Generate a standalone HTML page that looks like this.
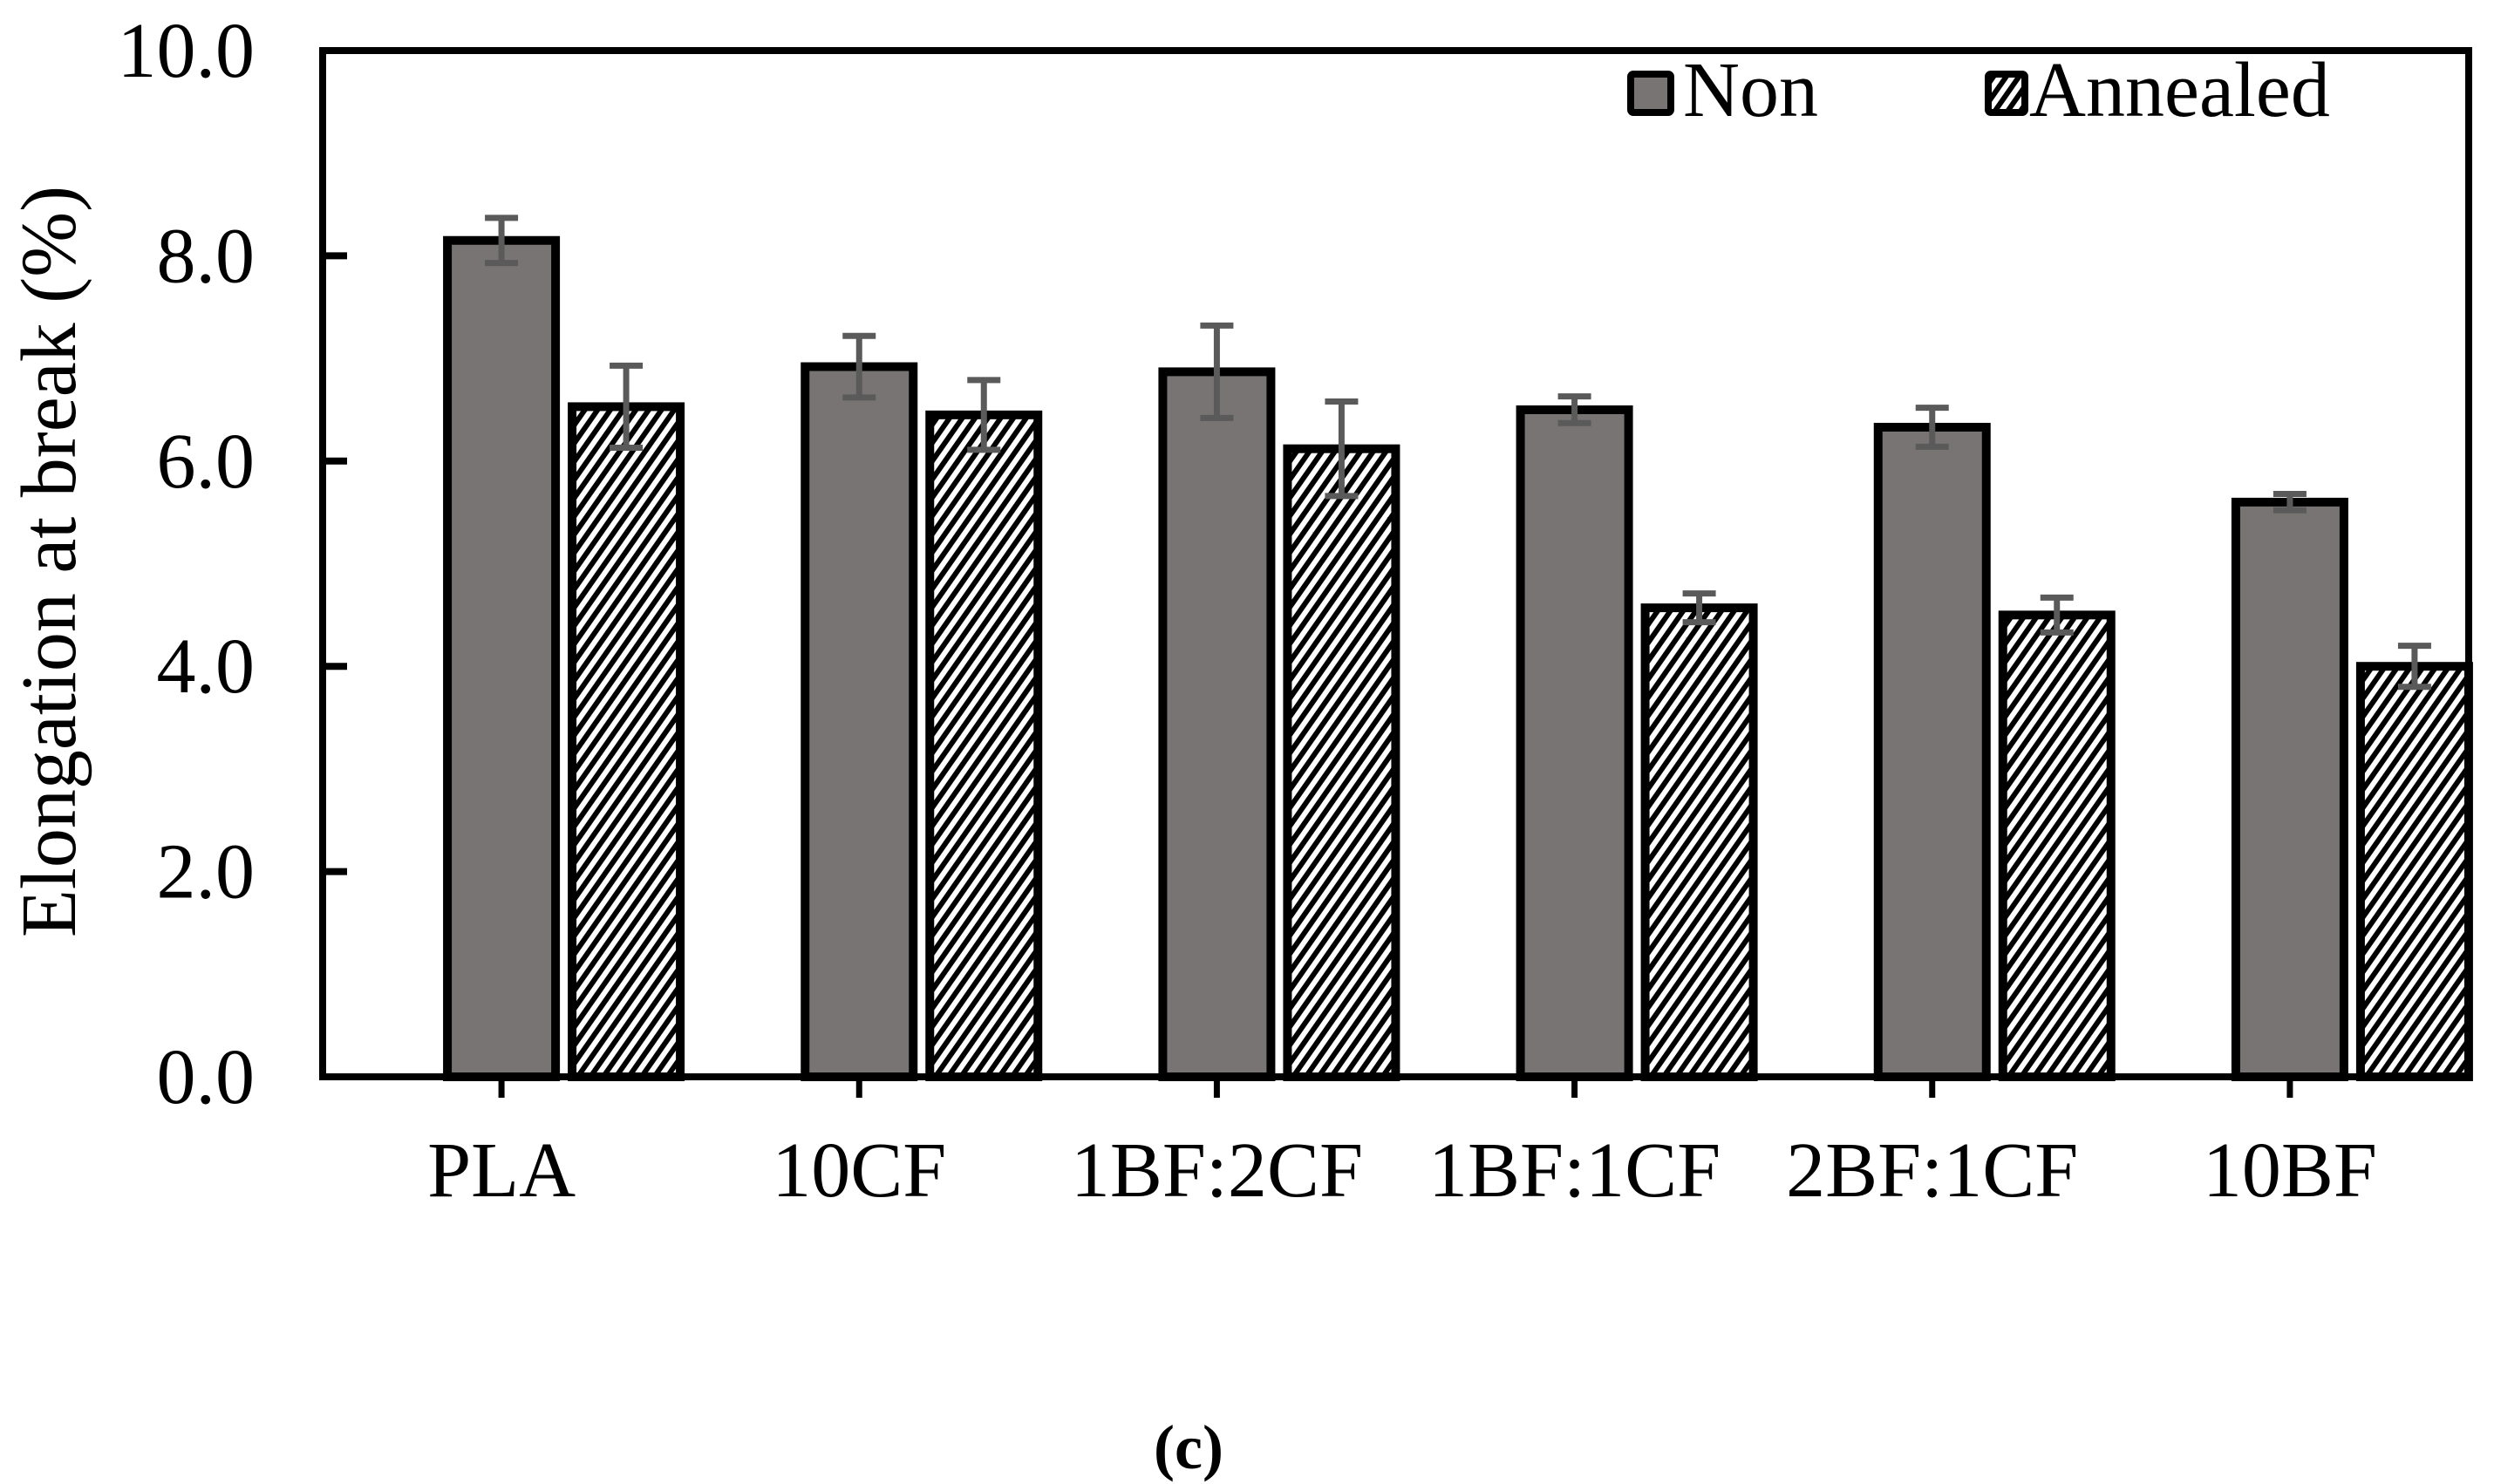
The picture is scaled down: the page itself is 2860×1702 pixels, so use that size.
<!DOCTYPE html>
<html><head><meta charset="utf-8"><style>
html,body{margin:0;padding:0;background:#fff}
svg{display:block}
text{font-family:"Liberation Serif",serif;fill:#000}
</style></head><body>
<svg id="chart" width="2860" height="1702" viewBox="0 0 2860 1702" xmlns="http://www.w3.org/2000/svg">
<defs>
<pattern id="hatch" patternUnits="userSpaceOnUse" width="12" height="12" patternTransform="rotate(35)">
<rect width="12" height="12" fill="#fff"/><rect width="6" height="12" fill="#000"/>
</pattern>
</defs>
<g id="plot"></g>
</svg>
<script>
const categories = ["PLA","10CF","1BF:2CF","1BF:1CF","2BF:1CF","10BF"];
const nonValues = [8.15, 6.92, 6.87, 6.50, 6.33, 5.60];
const nonErr = [0.22, 0.30, 0.45, 0.13, 0.19, 0.08];
const annValues = [6.53, 6.45, 6.12, 4.57, 4.50, 4.00];
const annErr = [0.40, 0.34, 0.46, 0.14, 0.17, 0.20];
const yTicks = [0, 2, 4, 6, 8, 10];
const yTickLabels = ["0.0","2.0","4.0","6.0","8.0","10.0"];

const NS = "http://www.w3.org/2000/svg";
const g = document.getElementById("plot");
const X0 = 370, X1 = 2831, Y0 = 1235, YT = 58;
const yMax = 10;
function y(v){ return Y0 - (v / yMax) * (Y0 - YT); }
const gw = (X1 - X0) / categories.length;
function xc(i){ return X0 + gw / 2 + gw * i; }
function mk(tag, attrs){ const e = document.createElementNS(NS, tag); for (const k in attrs) e.setAttribute(k, attrs[k]); g.appendChild(e); return e; }

const BW = 124, OFF = 143;
function bar(cx, v, fill, name){
  const r = mk("rect", {x: cx - BW/2, y: y(v), width: BW, height: Y0 - y(v), fill: fill, stroke: "#000", "stroke-width": 10});
  
  
}
function err(cx, v, e, name){
  const p = mk("path", {d: `M${cx-19},${y(v+e)}H${cx+19}M${cx},${y(v+e)}V${y(v-e)}M${cx-19},${y(v-e)}H${cx+19}`, stroke: "#5a5a5a", "stroke-width": 7, fill: "none"});
  
  
}
categories.forEach((c, i) => {
  const cx = xc(i);
  bar(cx, nonValues[i], "#797474", "bar-non-" + i);
  bar(cx + OFF, annValues[i], "url(#hatch)", "bar-annealed-" + i);
  err(cx, nonValues[i], nonErr[i], "error-bar-non-" + i);
  err(cx + OFF, annValues[i], annErr[i], "error-bar-annealed-" + i);
  const t = mk("path", {d: `M${cx},${Y0}V${Y0+24}`, stroke: "#000", "stroke-width": 7});
  
  
  const l = mk("text", {x: cx, y: 1372, "font-size": 90, "text-anchor": "middle"});
  l.textContent = c;
  
  
});
yTicks.forEach((v, i) => {
  if (v > 0 && v < yMax) {
    const t = mk("path", {d: `M${X0},${y(v)}H${X0+28}`, stroke: "#000", "stroke-width": 8});
    
    
  }
  const l = mk("text", {x: 292, y: y(v) + 30, "font-size": 90, "text-anchor": "end"});
  l.textContent = yTickLabels[i];
  
  
});
const frame = mk("rect", {x: X0, y: YT, width: X1 - X0, height: Y0 - YT, fill: "none", stroke: "#000", "stroke-width": 8});



const yt = mk("text", {x: 0, y: 0, "font-size": 90, "text-anchor": "middle", transform: "translate(86,644) rotate(-90)"});
yt.textContent = "Elongation at break (%)";



const ls1 = mk("rect", {x: 1870, y: 85, width: 46, height: 44, fill: "#797474", stroke: "#000", "stroke-width": 8, rx: 3});


const lt1 = mk("text", {x: 1930, y: 133, "font-size": 90});
lt1.textContent = "Non";


const ls2 = mk("rect", {x: 2280, y: 85, width: 42, height: 44, fill: "url(#hatch)", stroke: "#000", "stroke-width": 8, rx: 3});


const lt2 = mk("text", {x: 2327, y: 133, "font-size": 90});
lt2.textContent = "Annealed";



const cap = mk("text", {x: 1363, y: 1684, "font-size": 72, "font-weight": "bold", "text-anchor": "middle"});
cap.textContent = "(c)";


</script>
</body></html>
